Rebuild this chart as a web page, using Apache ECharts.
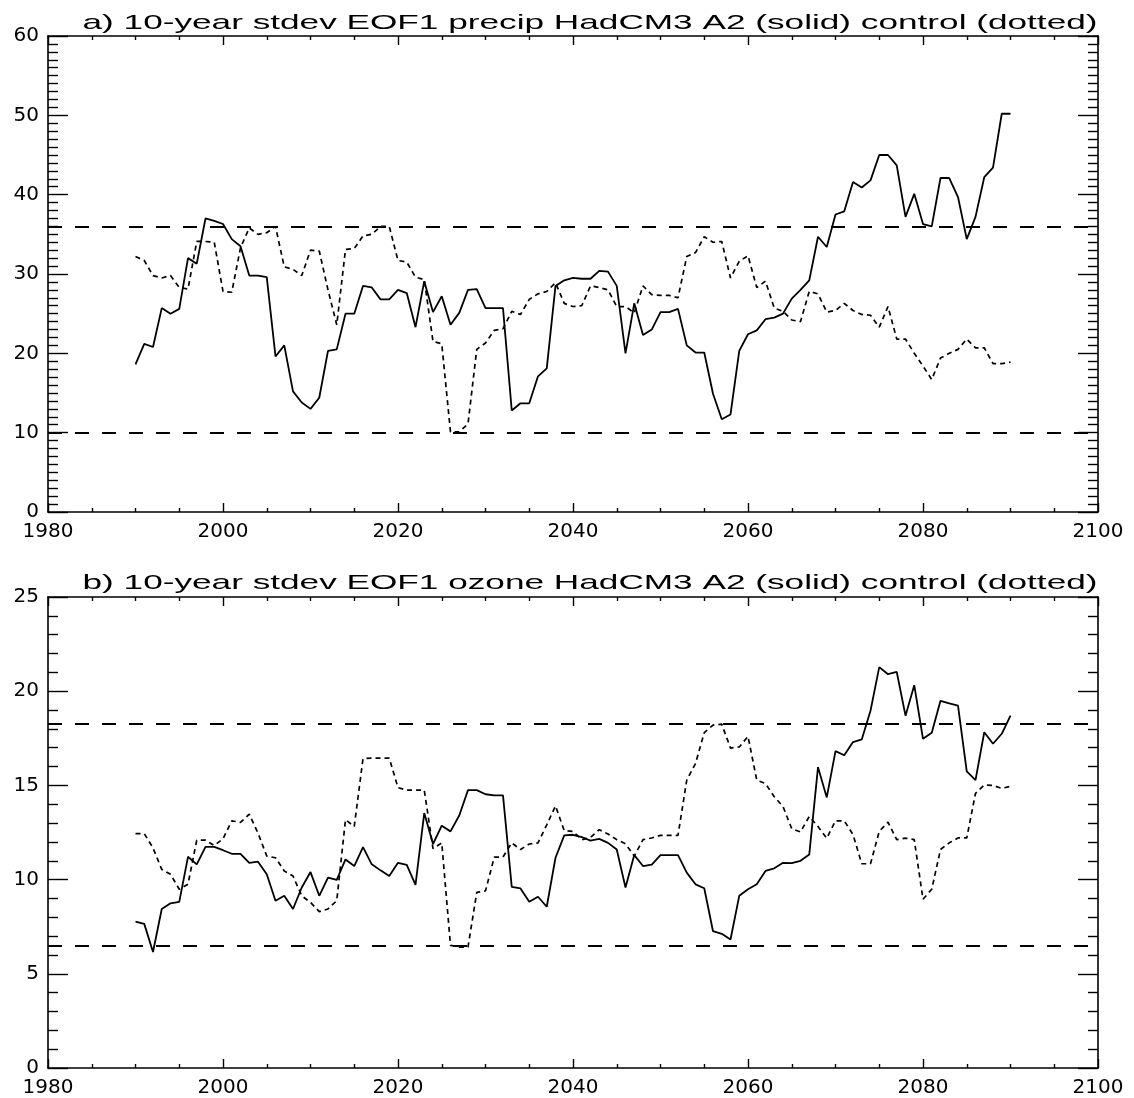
<!DOCTYPE html>
<html>
<head>
<meta charset="utf-8">
<title>10-year stdev EOF1 HadCM3 A2 vs control</title>
<script src="https://cdn.jsdelivr.net/npm/echarts/dist/echarts.min.js"></script>
<style>
  html, body { margin: 0; padding: 0; background: #fff; }
  #chart { width: 1134px; height: 1098px; }
</style>
</head>
<body>
<div id="chart"></div>
<script>
// Years of the running 10-year window (shared by all four curves)
const years = [
  1990, 1991, 1992, 1993, 1994, 1995, 1996, 1997, 1998, 1999,
  2000, 2001, 2002, 2003, 2004, 2005, 2006, 2007, 2008, 2009,
  2010, 2011, 2012, 2013, 2014, 2015, 2016, 2017, 2018, 2019,
  2020, 2021, 2022, 2023, 2024, 2025, 2026, 2027, 2028, 2029,
  2030, 2031, 2032, 2033, 2034, 2035, 2036, 2037, 2038, 2039,
  2040, 2041, 2042, 2043, 2044, 2045, 2046, 2047, 2048, 2049,
  2050, 2051, 2052, 2053, 2054, 2055, 2056, 2057, 2058, 2059,
  2060, 2061, 2062, 2063, 2064, 2065, 2066, 2067, 2068, 2069,
  2070, 2071, 2072, 2073, 2074, 2075, 2076, 2077, 2078, 2079,
  2080, 2081, 2082, 2083, 2084, 2085, 2086, 2087, 2088, 2089,
  2090
];

// a) precipitation EOF1, HadCM3 A2 scenario (solid)
const precipA2 = [
  18.6, 21.2, 20.8, 25.7, 25.0, 25.6, 32.0, 31.3, 37.0, 36.7,
  36.3, 34.4, 33.5, 29.8, 29.8, 29.6, 19.6, 21.0, 15.2, 13.8,
  13.0, 14.4, 20.3, 20.5, 25.0, 25.0, 28.5, 28.3, 26.8, 26.8,
  28.0, 27.6, 23.3, 29.1, 25.2, 27.2, 23.6, 25.1, 28.0, 28.1,
  25.7, 25.7, 25.7, 12.8, 13.7, 13.7, 17.1, 18.1, 28.5, 29.2,
  29.5, 29.4, 29.4, 30.4, 30.3, 28.5, 20.0, 26.3, 22.3, 23.0,
  25.2, 25.2, 25.6, 21.0, 20.1, 20.1, 14.9, 11.7, 12.3, 20.3,
  22.4, 22.9, 24.3, 24.5, 25.0, 26.9, 28.0, 29.2, 34.7, 33.4,
  37.5, 37.9, 41.6, 40.9, 41.8, 45.0, 45.0, 43.7, 37.2, 40.1,
  36.3, 36.0, 42.1, 42.1, 39.7, 34.4, 37.2, 42.2, 43.4, 50.2,
  50.2
];

// a) precipitation EOF1, control run (dotted)
const precipControl = [
  32.2, 31.7, 29.8, 29.5, 29.8, 28.3, 28.1, 34.1, 34.1, 34.0,
  27.8, 27.7, 33.3, 35.8, 35.0, 35.2, 36.0, 30.9, 30.6, 29.8,
  33.0, 32.9, 28.0, 23.6, 33.1, 33.2, 34.8, 35.0, 36.0, 36.0,
  31.7, 31.5, 29.6, 29.3, 21.5, 21.2, 10.1, 10.1, 11.1, 20.5,
  21.3, 22.9, 23.1, 25.3, 24.9, 26.8, 27.5, 27.8, 28.9, 26.3,
  25.9, 26.0, 28.5, 28.3, 28.0, 25.9, 25.9, 25.1, 28.5, 27.4,
  27.3, 27.3, 27.0, 32.2, 32.7, 34.7, 34.0, 34.1, 29.5, 31.6,
  32.3, 28.3, 29.1, 25.7, 25.3, 24.2, 24.0, 27.8, 27.5, 25.2,
  25.4, 26.3, 25.4, 24.9, 24.8, 23.3, 25.9, 21.8, 21.8, 20.0,
  18.4, 16.7, 19.4, 20.0, 20.5, 21.8, 20.7, 20.7, 18.7, 18.7,
  18.9
];

// b) ozone EOF1, HadCM3 A2 scenario (solid)
const ozoneA2 = [
  7.77, 7.65, 6.16, 8.44, 8.74, 8.82, 11.21, 10.81, 11.74, 11.74,
  11.56, 11.37, 11.37, 10.89, 10.95, 10.28, 8.88, 9.14, 8.44, 9.58,
  10.40, 9.14, 10.10, 9.98, 11.07, 10.72, 11.72, 10.81, 10.49, 10.19,
  10.89, 10.78, 9.72, 13.53, 11.89, 12.86, 12.56, 13.40, 14.75, 14.75,
  14.53, 14.47, 14.47, 9.61, 9.53, 8.82, 9.09, 8.56, 11.16, 12.35,
  12.38, 12.26, 12.07, 12.16, 11.95, 11.60, 9.58, 11.30, 10.72, 10.80,
  11.30, 11.30, 11.30, 10.37, 9.75, 9.54, 7.26, 7.12, 6.82, 9.14,
  9.49, 9.75, 10.46, 10.60, 10.89, 10.87, 11.00, 11.33, 15.97, 14.36,
  16.82, 16.60, 17.30, 17.44, 18.96, 21.28, 20.90, 21.02, 18.70, 20.32,
  17.47, 17.79, 19.49, 19.35, 19.23, 15.75, 15.28, 17.82, 17.21, 17.74,
  18.70
];

// b) ozone EOF1, control run (dotted)
const ozoneControl = [
  12.44, 12.44, 11.68, 10.54, 10.28, 9.49, 9.75, 12.09, 12.09, 11.81,
  12.16, 13.12, 13.04, 13.47, 12.47, 11.25, 11.16, 10.46, 10.19, 9.14,
  8.79, 8.30, 8.44, 8.88, 13.18, 12.82, 16.42, 16.45, 16.45, 16.45,
  14.88, 14.75, 14.75, 14.75, 11.65, 11.95, 6.51, 6.42, 6.42, 9.32,
  9.40, 11.19, 11.20, 11.95, 11.60, 11.89, 11.95, 12.91, 13.91, 12.60,
  12.56, 12.12, 12.24, 12.65, 12.42, 12.12, 11.90, 11.25, 12.12, 12.21,
  12.35, 12.35, 12.35, 15.28, 16.16, 17.80, 18.20, 18.25, 16.98, 17.04,
  17.60, 15.28, 15.10, 14.40, 13.88, 12.70, 12.53, 13.35, 12.82, 12.19,
  13.12, 13.12, 12.39, 10.84, 10.84, 12.56, 13.05, 12.12, 12.20, 12.12,
  8.96, 9.49, 11.60, 11.95, 12.21, 12.21, 14.58, 15.02, 15.00, 14.84,
  14.95
];

// Control-run envelope levels (dashed horizontal lines)
const precipLimits = [10, 36];
const ozoneLimits = [6.5, 18.25];

// Axis ranges / tick steps
const yearRange = [1980, 2100];
const yearStep = 20;
const precipRange = [0, 60];
const precipStep = 10;
const ozoneRange = [0, 25];
const ozoneStep = 5;

const titleA = 'a) 10-year stdev EOF1 precip HadCM3 A2 (solid) control (dotted)';
const titleB = 'b) 10-year stdev EOF1 ozone HadCM3 A2 (solid) control (dotted)';

const pairs = (xs, ys) => xs.map((x, i) => [x, ys[i]]);

const INK = '#000';
const labelFont = 'DejaVu Sans';
const titleFont = '21px "Liberation Sans"';

// Stretch factor so a title spans the requested width
function stretch(text, width) {
  const ctx = document.createElement('canvas').getContext('2d');
  ctx.font = titleFont;
  return width / ctx.measureText(text).width;
}

// Plain integer labels (no thousands separator on years)
const plain = v => String(Math.round(v));

function xAxisPair(gridIndex) {
  const common = {
    gridIndex,
    type: 'value',
    min: yearRange[0],
    max: yearRange[1],
    interval: yearStep,
    splitLine: { show: false },
    axisLine: { show: true, onZero: false, lineStyle: { color: INK, width: 1.6 } },
    axisTick: { show: true, inside: true, length: 9, lineStyle: { color: INK, width: 1.4 } },
    minorTick: { show: true, splitNumber: 4, length: 4, lineStyle: { color: INK, width: 1.4 } }
  };
  return [
    Object.assign({}, common, {
      position: 'bottom',
      axisLabel: { show: true, margin: 10, color: INK, fontSize: 20, fontFamily: labelFont,
                   formatter: plain, showMinLabel: true, showMaxLabel: true }
    }),
    Object.assign({}, common, { position: 'top', axisLabel: { show: false } })
  ];
}

function yAxisPair(gridIndex, range, step) {
  const common = {
    gridIndex,
    type: 'value',
    min: range[0],
    max: range[1],
    interval: step,
    splitLine: { show: false },
    axisLine: { show: true, onZero: false, lineStyle: { color: INK, width: 1.6 } },
    axisTick: { show: true, inside: true, length: 20, lineStyle: { color: INK, width: 1.4 } },
    minorTick: { show: true, splitNumber: step, length: 10, lineStyle: { color: INK, width: 1.4 } }
  };
  return [
    Object.assign({}, common, {
      position: 'left',
      axisLabel: { show: true, margin: 9, color: INK, fontSize: 20, fontFamily: labelFont,
                   formatter: plain, showMinLabel: true, showMaxLabel: true }
    }),
    Object.assign({}, common, { position: 'right', axisLabel: { show: false } })
  ];
}

function limitLines(levels) {
  return {
    silent: true,
    symbol: ['none', 'none'],
    label: { show: false },
    lineStyle: { color: INK, width: 2, type: [14, 13] },
    data: levels.map(v => ({ yAxis: v }))
  };
}

function curve(name, xi, yi, values, dashed, limits) {
  const s = {
    name,
    type: 'line',
    xAxisIndex: xi,
    yAxisIndex: yi,
    data: pairs(years, values),
    symbol: 'none',
    smooth: false,
    lineStyle: dashed
      ? { color: INK, width: 1.7, type: [5, 4] }
      : { color: INK, width: 1.8, type: 'solid' }
  };
  if (limits) s.markLine = limitLines(limits);
  return s;
}

const chart = echarts.init(document.getElementById('chart'), null, { renderer: 'canvas' });

chart.setOption({
  animation: false,
  backgroundColor: '#fff',
  grid: [
    { left: 48, right: 36, top: 36, height: 476 },
    { left: 48, right: 36, top: 597, height: 475 }
  ],
  xAxis: [...xAxisPair(0), ...xAxisPair(1)],
  yAxis: [...yAxisPair(0, precipRange, precipStep), ...yAxisPair(1, ozoneRange, ozoneStep)],
  graphic: [
    {
      type: 'text', x: 590, y: 23, scaleX: stretch(titleA, 1015), silent: true,
      style: { text: titleA, font: titleFont, fill: INK, align: 'center', verticalAlign: 'middle' }
    },
    {
      type: 'text', x: 590, y: 583, scaleX: stretch(titleB, 1015), silent: true,
      style: { text: titleB, font: titleFont, fill: INK, align: 'center', verticalAlign: 'middle' }
    }
  ],
  series: [
    curve('precip A2', 0, 0, precipA2, false, precipLimits),
    curve('precip control', 0, 0, precipControl, true, null),
    curve('ozone A2', 2, 2, ozoneA2, false, ozoneLimits),
    curve('ozone control', 2, 2, ozoneControl, true, null)
  ]
});
</script>
</body>
</html>
